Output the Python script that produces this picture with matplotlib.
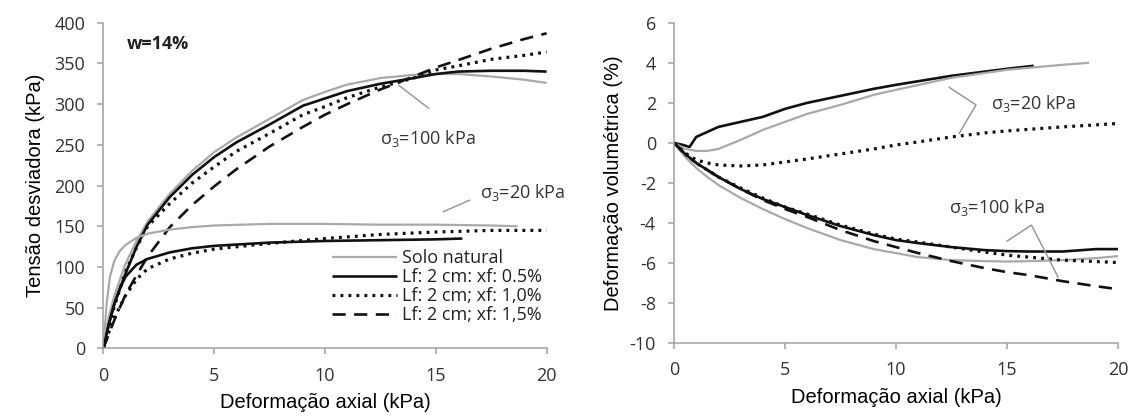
import matplotlib
matplotlib.use("Agg")
import matplotlib.pyplot as plt

plt.rcParams['axes.unicode_minus'] = False
plt.rcParams['mathtext.fontset'] = 'custom'
plt.rcParams['mathtext.rm'] = 'Open Sans'
plt.rcParams['mathtext.it'] = 'Open Sans:italic'

# ---------------- Left panel data ----------------
x100 = [0, 0.25, 0.5, 1, 1.5, 2, 3, 4, 5, 6, 7.5, 9, 10, 11, 12.5, 14, 15, 16, 17.5, 19, 20]
q100_nat = [0, 40, 65, 104, 132, 156, 190, 218, 241, 259, 282, 305, 315, 324, 332, 336, 337, 337, 334, 330, 326]
q100_05 = [0, 30, 55, 92, 125, 152, 186, 213, 235, 253, 275, 298, 307, 316, 325, 332, 337, 340, 341, 341, 340]
q100_10 = [0, 28, 52, 94, 124, 150, 178, 203, 223, 242, 264, 287, 297, 308, 321, 332, 342, 347, 355, 360, 364]
q100_15 = [0, 18, 35, 66, 90, 113, 149, 176, 199, 220, 248, 272, 287, 300, 318, 334, 345, 354, 368, 380, 387]

x20_nat = [0, 0.15, 0.3, 0.5, 0.75, 1, 1.5, 2, 3, 4, 5, 7.5, 10, 12.5, 15, 17.5, 18.7]
q20_nat = [0, 55, 88, 108, 120, 127, 136, 141, 146, 149, 151, 153, 153, 152, 152, 151, 150]
x20_05 = [0, 0.25, 0.5, 0.75, 1, 1.5, 2, 3, 4, 5, 7.5, 10, 12.5, 15, 16.2]
q20_05 = [0, 30, 55, 74, 88, 103, 110, 118, 123, 126, 130, 132, 133, 134, 135]
x20_10 = [0, 0.25, 0.5, 1, 1.5, 2, 3, 4, 5, 7.5, 10, 12.5, 15, 17.5, 20]
q20_10 = [0, 20, 38, 65, 85, 98, 110, 117, 122, 129, 135, 140, 143, 145, 145]

# ---------------- Right panel data ----------------
xv = [0, 0.5, 1, 1.5, 2, 3, 4, 5, 6, 7.5, 9, 10, 11, 12.5, 14, 15, 16, 17.5, 19, 20]
v20_05_x = [0, 0.4, 0.7, 1, 1.5, 2, 3, 4, 5, 6, 7.5, 9, 10, 12.5, 15, 16.2]
v20_05 = [0, -0.1, -0.2, 0.3, 0.55, 0.8, 1.05, 1.3, 1.7, 2.0, 2.35, 2.7, 2.9, 3.35, 3.7, 3.85]
v20_nat_x = [0, 0.5, 1, 1.5, 2, 3, 4, 5, 6, 7.5, 9, 10, 12.5, 15, 17.5, 18.7]
v20_nat = [0, -0.3, -0.4, -0.4, -0.3, 0.15, 0.65, 1.05, 1.45, 1.9, 2.4, 2.65, 3.25, 3.65, 3.9, 4.0]
v20_10 = [0, -0.5, -0.85, -1.0, -1.1, -1.15, -1.1, -0.95, -0.8, -0.55, -0.3, -0.1, 0.05, 0.3, 0.5, 0.6, 0.68, 0.8, 0.9, 0.97]

v100_nat = [0, -0.7, -1.25, -1.7, -2.1, -2.75, -3.3, -3.8, -4.25, -4.85, -5.3, -5.5, -5.7, -5.85, -5.9, -5.92, -5.9, -5.85, -5.75, -5.65]
v100_05 = [0, -0.55, -1.0, -1.35, -1.7, -2.3, -2.8, -3.2, -3.6, -4.15, -4.6, -4.85, -5.0, -5.2, -5.35, -5.4, -5.42, -5.42, -5.3, -5.3]
v100_10 = [0, -0.55, -1.0, -1.35, -1.7, -2.25, -2.75, -3.2, -3.55, -4.1, -4.55, -4.8, -4.95, -5.2, -5.45, -5.6, -5.7, -5.85, -5.92, -5.97]
v100_15 = [0, -0.55, -1.0, -1.35, -1.7, -2.3, -2.85, -3.3, -3.7, -4.35, -4.9, -5.2, -5.5, -5.9, -6.25, -6.45, -6.6, -6.9, -7.15, -7.3]

xticks = [0, 5, 10, 15, 20]
legend_labels = ["Solo natural", "Lf: 2 cm: xf: 0.5%", "Lf: 2 cm; xf: 1,0%", "Lf: 2 cm; xf: 1,5%"]

GRAY = '#a9a9a9'
BLACK = '#111111'
SPINE = '#a0a0a0'

sty_nat = dict(color=GRAY, lw=1.6, solid_capstyle='butt')
sty_05 = dict(color=BLACK, lw=1.9, solid_capstyle='butt')
sty_10 = dict(color=BLACK, lw=2.3, linestyle=(0, (0.9, 1.6)))
sty_15 = dict(color=BLACK, lw=1.9, linestyle=(0, (5.0, 3.2)))

fig = plt.figure(figsize=(11.33, 4.16), dpi=100)
ax1 = fig.add_axes([0.0912, 0.1623, 0.3912, 0.7831])
ax2 = fig.add_axes([0.5949, 0.1748, 0.3919, 0.7706])


def style(ax):
    for s in ['top', 'right']:
        ax.spines[s].set_visible(False)
    for s in ['left', 'bottom']:
        ax.spines[s].set_color(SPINE)
        ax.spines[s].set_linewidth(1.1)
    ax.tick_params(direction='out', length=4, width=1.1, color=SPINE, pad=9,
                   labelcolor='#333333')
    for lab in ax.get_xticklabels() + ax.get_yticklabels():
        lab.set_fontfamily('Open Sans')
        lab.set_fontsize(13)


# Left
ax1.plot(x100, q100_nat, label=legend_labels[0], **sty_nat)
ax1.plot(x100, q100_05, label=legend_labels[1], **sty_05)
ax1.plot(x100, q100_10, label=legend_labels[2], **sty_10)
ax1.plot(x100, q100_15, label=legend_labels[3], **sty_15)
ax1.plot(x20_nat, q20_nat, **sty_nat)
ax1.plot(x20_05, q20_05, **sty_05)
ax1.plot(x20_10, q20_10, **sty_10)
ax1.set_xlim(0, 20)
ax1.set_ylim(0, 400)
ax1.set_xticks(xticks)
ax1.set_yticks(range(0, 401, 50))
style(ax1)
ax1.set_xlabel('Deformação axial (kPa)', fontsize=14.5, family='Liberation Sans', labelpad=6)
ax1.set_ylabel('Tensão desviadora (kPa)', fontsize=14.5, family='Liberation Sans', labelpad=7)
ax1.text(1.07, 374, 'w=14%', fontsize=13, fontweight='bold', family='Open Sans', va='center', ha='left', color='#222222')
ax1.plot([13.34, 14.68], [323, 295], color='#999999', lw=1.1)
ax1.text(12.5, 258, r'$\mathrm{\sigma_3}$=100 kPa', fontsize=13, family='Open Sans', va='center', ha='left', color='#333333')
ax1.plot([15.35, 16.52], [168, 182], color='#999999', lw=1.1)
ax1.text(17.0, 192, r'$\mathrm{\sigma_3}$=20 kPa', fontsize=13, family='Open Sans', va='center', ha='left', color='#333333', clip_on=False)
leg = ax1.legend(loc='upper left', bbox_to_anchor=(0.515, 0.305), frameon=False,
                 prop=dict(family='Open Sans', size=13), handlelength=3.6,
                 handletextpad=0.3, labelspacing=0.05, borderpad=0, borderaxespad=0)
for t in leg.get_texts():
    t.set_color('#222222')

# Right
ax2.plot(v20_05_x, v20_05, **sty_05)
ax2.plot(v20_nat_x, v20_nat, **sty_nat)
ax2.plot(xv, v20_10, **sty_10)
ax2.plot(xv, v100_nat, **sty_nat)
ax2.plot(xv, v100_15, **sty_15)
ax2.plot(xv, v100_10, **sty_10)
ax2.plot(xv, v100_05, **sty_05)
ax2.set_xlim(0, 20)
ax2.set_ylim(-10, 6)
ax2.set_xticks(xticks)
ax2.set_yticks(range(-10, 7, 2))
style(ax2)
ax2.set_xlabel('Deformação axial (kPa)', fontsize=14.5, family='Liberation Sans', labelpad=6)
ax2.set_ylabel('Deformação volumétrica (%)', fontsize=14.5, family='Liberation Sans', labelpad=5)
ax2.plot([12.4, 13.6, 12.85], [2.77, 1.9, 0.48], color='#999999', lw=1.1)
ax2.text(14.3, 1.95, r'$\mathrm{\sigma_3}$=20 kPa', fontsize=13, family='Open Sans', va='center', ha='left', color='#333333')
ax2.plot([15.0, 16.1, 17.3], [-4.9, -4.1, -6.7], color='#999999', lw=1.1)
ax2.text(12.4, -3.2, r'$\mathrm{\sigma_3}$=100 kPa', fontsize=13, family='Open Sans', va='center', ha='left', color='#333333')

fig.savefig('out.png', dpi=100)
